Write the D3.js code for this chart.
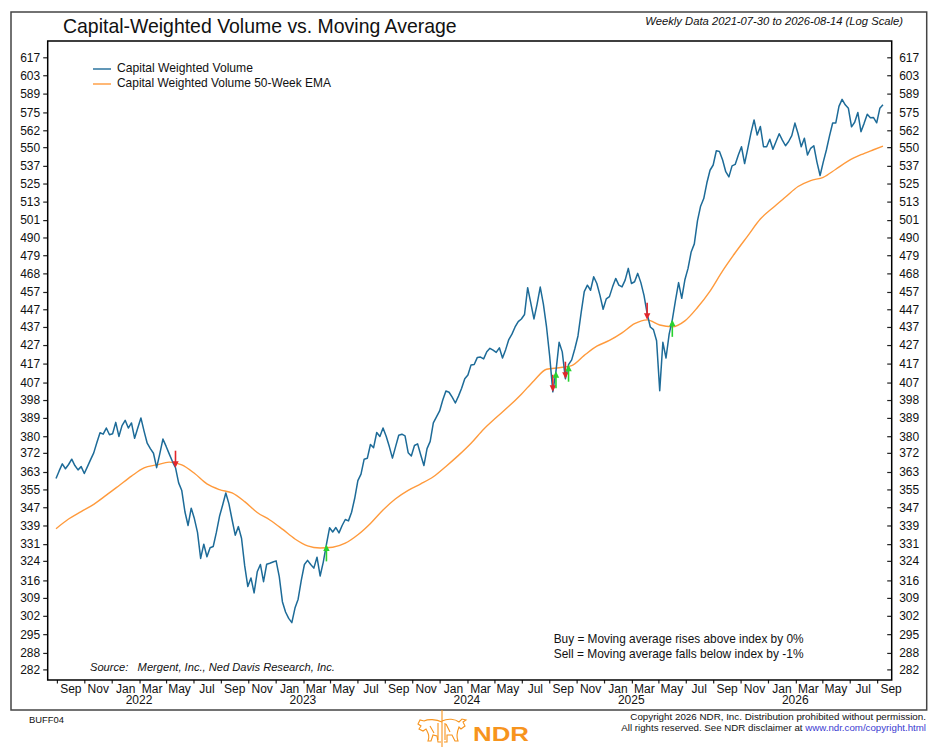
<!DOCTYPE html>
<html>
<head>
<meta charset="utf-8">
<script src="https://cdn.jsdelivr.net/npm/d3@7"></script>
<style>
  body { margin: 0; background: #fff; }
  svg text { font-family: "Liberation Sans", Arial, sans-serif; fill: #111; }
</style>
</head>
<body>
<div id="chart"></div>
<script>
// weekly data, first week ending 2021-07-30
const startDate = '2021-07-30'

const volume = [
  360, 363.5, 366.8, 364.5, 366.5, 369, 366, 364, 365.5, 362.3,
  365.5, 368.8, 372, 377, 381.7, 381, 384, 380.7, 381.2, 386.8,
  379.9, 385.2, 387.8, 384, 386.5, 379, 384, 389, 382.5, 376.6,
  374, 371.8, 365, 371.5, 378.6, 375.2, 371.5, 368, 365, 358,
  354.5, 345, 339, 346.6, 342, 336, 325, 331, 325.7, 329.5,
  330, 336, 343, 348, 353.4, 348.5, 341.5, 334.8, 338.5, 333.5,
  322, 313.5, 317, 311, 319.5, 322.5, 315.5, 322.6, 323, 323.5,
  324, 317.5, 307.5, 303.5, 301, 299.4, 305, 308.5, 316, 322.5,
  324.2, 322.5, 321, 325.5, 317.8, 323.5, 330.9, 338, 336.2, 338.1,
  335.8, 339, 341.6, 341, 344.8, 351, 359, 362, 369, 369.4,
  376, 374.5, 381.8, 379.9, 384, 380, 375, 369.5, 375, 380.5,
  381, 380.2, 372.1, 370.5, 375.5, 376.3, 371, 366, 374, 377.5,
  386.5, 389.5, 392.5, 398, 402.6, 402, 399.5, 396.5, 400, 404,
  409, 411, 416.3, 416.5, 420.3, 420.5, 419.5, 423.4, 425.2, 424.2,
  423, 425.5, 420, 424.5, 430, 433, 437, 440, 441.5, 444,
  459.5, 450.5, 441.5, 450, 459.9, 450, 437, 421, 402.2, 412.9,
  428.5, 423.3, 409, 416.4, 419, 425, 432, 445, 457.2, 461,
  458, 466, 462, 455, 447, 453, 454.3, 460, 465, 461,
  460, 464, 471, 462, 463, 468, 462.5, 455, 444.5, 437,
  435.5, 429.4, 402.8, 428.5, 420, 433, 441, 452, 462.5, 453.3,
  464.2, 471, 481, 486, 500.5, 510, 515, 525.5, 534, 537.6,
  547.5, 547, 541, 533, 529.5, 537, 538, 544.5, 550.3, 538.6,
  549, 560, 569.5, 558.6, 564.8, 550.3, 550.3, 555.6, 548.5, 554,
  559.5, 555, 551, 554, 558.2, 567.2, 559.5, 550.3, 556.3, 544.5,
  549.2, 551, 539.6, 530.4, 539.6, 548, 558, 567.3, 567.3, 579.5,
  584.7, 580.6, 578, 564.5, 567.8, 575, 561, 567, 573.6, 571,
  571.2, 567.4, 578, 580.6
]

// 50-week EMA, read every 4th week (plus the last week)
const emaWeeks = d3.range(0, 261, 4).concat([263])
const ema = [
  337.6, 341.8, 345.1, 348.3, 352.4, 356.7, 361.1, 364.9, 366.3, 367.6,
  366.3, 362.4, 357.5, 354.9, 353.4, 349.5, 344.7, 341.4, 337.4, 333.2,
  330.3, 329.4, 329.7, 331.4, 335.0, 339.9, 345.8, 350.8, 354.6, 357.5,
  360.8, 365.6, 370.8, 376.6, 383.4, 389.2, 394.8, 401.0, 408.0, 414.0,
  414.8, 415.9, 421.4, 426.4, 429.5, 433.7, 438.8, 441.0, 438.1, 437.1,
  440.4, 448.0, 457.5, 469.5, 480.5, 491.0, 501.7, 509.0, 516.0, 523.0,
  527.0, 529.2, 534.7, 540.4, 544.7, 548.2, 550.7
]

const buyDates = ['2023-03-24', '2024-08-16', '2024-09-13', '2025-05-02']
const sellDates = ['2022-04-22', '2024-08-09', '2024-09-06', '2025-03-07']

const yTicks = [282, 288, 295, 302, 309, 316, 324, 331, 339, 347, 355, 363, 372, 380,
  389, 398, 407, 417, 427, 437, 447, 457, 468, 479, 490, 501, 513, 525, 537, 550,
  562, 575, 589, 603, 617]

const legendLabels = ['Capital Weighted Volume', 'Capital Weighted Volume 50-Week EMA']
const notes = ['Buy = Moving average rises above index by 0%', 'Sell = Moving average falls below index by -1%']

const W = 942
const H = 747
const plot = { left: 47.7, right: 891.7, top: 41, bottom: 680 }
const blue = '#1d6b98'
const orange = '#ff9a3c'
const ndrOrange = '#f7941d'

const parse = d3.utcParse('%Y-%m-%d')
const start = parse(startDate)
const weekDate = i => d3.utcDay.offset(start, i * 7)
const weekIndex = d => Math.round((d - start) / (7 * 864e5))

const volumeSeries = volume.map((v, i) => ({ date: weekDate(i), value: v }))
const emaSeries = ema.map((v, k) => ({ date: weekDate(emaWeeks[k]), value: v }))

const x = d3.scaleUtc()
  .domain([new Date(Date.UTC(2021, 6, 11, 12)), new Date(Date.UTC(2026, 8, 2, 10))])
  .range([plot.left, plot.right])

const y = d3.scaleLog()
  .domain([278.2, 630])
  .range([plot.bottom, plot.top])

const svg = d3.select('#chart')
  .append('svg')
  .attr('width', W)
  .attr('height', H)

const fit = (sel, width) => {
  const len = sel.node().getComputedTextLength()
  sel.attr('font-size', parseFloat(sel.attr('font-size')) * width / len)
}

// outer frame
svg.append('rect')
  .attr('x', 11).attr('y', 12)
  .attr('width', 915.7).attr('height', 698)
  .attr('fill', 'none')
  .attr('stroke', '#444')
  .attr('stroke-width', 1.5)

svg.append('text')
  .attr('x', 63).attr('y', 33)
  .attr('font-size', 20)
  .text('Capital-Weighted Volume vs. Moving Average')
  .call(fit, 394)

svg.append('text')
  .attr('x', 903).attr('y', 25)
  .attr('text-anchor', 'end')
  .attr('font-size', 12)
  .attr('font-style', 'italic')
  .text('Weekly Data 2021-07-30 to 2026-08-14 (Log Scale)')
  .call(fit, 258)

// y axes
const fmt = d3.format('d')
const leftAxis = svg.append('g')
  .attr('transform', `translate(${plot.left},0)`)
  .call(d3.axisLeft(y).tickValues(yTicks).tickFormat(fmt).tickSize(4.5).tickPadding(3))
const rightAxis = svg.append('g')
  .attr('transform', `translate(${plot.right},0)`)
  .call(d3.axisRight(y).tickValues(yTicks).tickFormat(fmt).tickSizeInner(-4.5).tickSizeOuter(0).tickPadding(7.5))

// x axis: ticks every other month, labels on the months between
const months = d3.utcMonths(x.domain()[0], x.domain()[1])
const tickMonths = months.filter(d => d.getUTCMonth() % 2 === 1)
const labelMonths = d3.utcMonths(x.domain()[0], d3.utcDay.offset(x.domain()[1], 1))
  .filter(d => d.getUTCMonth() % 2 === 0)
const bottomAxis = svg.append('g')
  .attr('transform', `translate(0,${plot.bottom})`)
  .call(d3.axisBottom(x).tickValues(tickMonths).tickFormat('').tickSize(3.5))

;[leftAxis, rightAxis, bottomAxis].forEach(g => {
  g.select('.domain').remove()
  g.selectAll('.tick line').attr('stroke', '#222').attr('stroke-width', 1.2)
  g.selectAll('.tick text')
    .attr('font-family', '"Liberation Sans", Arial, sans-serif')
    .attr('font-size', 12)
    .attr('fill', '#111')
})

svg.append('g')
  .selectAll('text')
  .data(labelMonths)
  .join('text')
  .attr('x', d => x(d))
  .attr('y', 692.7)
  .attr('text-anchor', 'middle')
  .attr('font-size', 12)
  .text(d3.utcFormat('%b'))

svg.append('g')
  .selectAll('text')
  .data(labelMonths.filter(d => d.getUTCMonth() === 0))
  .join('text')
  .attr('x', d => x(d))
  .attr('y', 704)
  .attr('font-size', 12)
  .text(d3.utcFormat('%Y'))

// series
const line = d3.line()
  .x(d => x(d.date))
  .y(d => y(d.value))

svg.append('path')
  .datum(emaSeries)
  .attr('fill', 'none')
  .attr('stroke', orange)
  .attr('stroke-width', 1.4)
  .attr('d', line.curve(d3.curveMonotoneX))

svg.append('path')
  .datum(volumeSeries)
  .attr('fill', 'none')
  .attr('stroke', blue)
  .attr('stroke-width', 1.5)
  .attr('stroke-linejoin', 'round')
  .attr('d', line.curve(d3.curveLinear))

// EMA value at a week, read along the drawn EMA points
const emaAt = i => {
  const k = d3.bisectRight(emaWeeks, i) - 1
  if (k >= emaWeeks.length - 1) return ema[ema.length - 1]
  const t = (i - emaWeeks[k]) / (emaWeeks[k + 1] - emaWeeks[k])
  return ema[k] + t * (ema[k + 1] - ema[k])
}

// signal arrows: sells point down onto the lower of index/EMA, buys point up onto the index
const arrowLen = 17
const drawSignals = (dates, color, dir) => {
  const g = svg.append('g').attr('fill', color).attr('stroke', color)
  dates.forEach(s => {
    const d = parse(s)
    const i = weekIndex(d)
    const v = dir > 0 ? Math.min(volume[i], emaAt(i)) : volume[i]
    const px = x(d)
    const tip = y(v)
    g.append('line')
      .attr('x1', px).attr('x2', px)
      .attr('y1', tip - dir * arrowLen)
      .attr('y2', tip - dir * 5)
      .attr('stroke-width', 1.6)
    g.append('path')
      .attr('stroke', 'none')
      .attr('d', `M${px - 3.2},${tip - dir * 6.5}L${px + 3.2},${tip - dir * 6.5}L${px},${tip}Z`)
  })
}
drawSignals(sellDates, '#e3262b', 1)
drawSignals(buyDates, '#28d22e', -1)

// plot frame
svg.append('rect')
  .attr('x', plot.left).attr('y', plot.top)
  .attr('width', plot.right - plot.left)
  .attr('height', plot.bottom - plot.top)
  .attr('fill', 'none')
  .attr('stroke', '#000')
  .attr('stroke-width', 1.5)

// legend
const legend = svg.append('g')
legendLabels.forEach((label, i) => {
  const ly = 69 + i * 15
  legend.append('line')
    .attr('x1', 93).attr('x2', 111)
    .attr('y1', ly).attr('y2', ly)
    .attr('stroke', i === 0 ? blue : orange)
    .attr('stroke-width', 1.4)
  legend.append('text')
    .attr('x', 117).attr('y', ly + 3)
    .attr('font-size', 12)
    .text(label)
    .call(fit, i === 0 ? 136 : 214)
})

svg.append('text')
  .attr('x', 90).attr('y', 670.7)
  .attr('font-size', 12.5)
  .attr('font-style', 'italic')
  .attr('xml:space', 'preserve')
  .text('Source:   Mergent, Inc., Ned Davis Research, Inc.')
  .call(fit, 245)

notes.forEach((n, i) => {
  svg.append('text')
    .attr('x', 553.7).attr('y', 642.7 + i * 15)
    .attr('font-size', 12)
    .text(n)
    .call(fit, 250)
})

// footer
svg.append('text')
  .attr('x', 29).attr('y', 723)
  .attr('font-size', 10)
  .text('BUFF04')
  .call(fit, 35)

svg.append('text')
  .attr('x', 926).attr('y', 719.5)
  .attr('text-anchor', 'end')
  .attr('font-size', 10)
  .text('Copyright 2026 NDR, Inc. Distribution prohibited without permission.')
  .call(fit, 296)

const copy2 = svg.append('text')
  .attr('x', 926).attr('y', 731)
  .attr('text-anchor', 'end')
  .attr('font-size', 10)
copy2.append('tspan').text('All rights reserved. See NDR disclaimer at ')
copy2.append('tspan').attr('fill', '#3b3bd1').style('fill', '#3b3bd1').text('www.ndr.com/copyright.html')
copy2.call(fit, 305)

// NDR logo: bear and bull outline plus the letters
const logo = svg.append('g')
  .attr('fill', 'none')
  .attr('stroke', ndrOrange)
  .attr('stroke-width', 1.1)
logo.append('line').attr('x1', 442).attr('x2', 442).attr('y1', 710).attr('y2', 747)
logo.append('path')
  .attr('d', 'M442,722 C436,719 428,719 424,721 L420,720 L418,724 L421,726 L419,729 L423,731 L426,729 C428,733 430,736 428,741 L431,741 L433,735 L437,736 L438,742 L441,742')
logo.append('path')
  .attr('d', 'M442,721 C448,718 455,719 459,722 L462,719 L466,720 L463,722 L465,726 L461,729 L459,727 C457,732 456,736 458,741 L455,741 L452,735 L447,735 L447,742 L444,742')
logo.append('path')
  .attr('d', 'M430,726 L434,733 M446,724 L450,732 M438,723 L438,740 M445,723 L445,740')
svg.append('text')
  .attr('x', 473).attr('y', 741)
  .attr('font-size', 20)
  .attr('font-weight', 'bold')
  .style('fill', ndrOrange)
  .attr('textLength', 56)
  .attr('lengthAdjust', 'spacingAndGlyphs')
  .text('NDR')
</script>
</body>
</html>
